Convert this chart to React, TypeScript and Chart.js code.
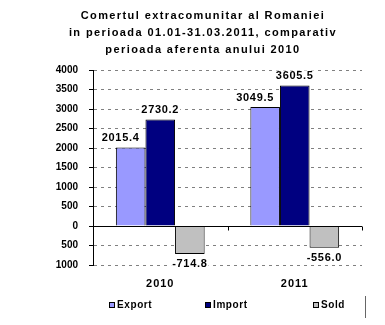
import { useEffect, useRef } from 'react';
import { Chart, registerables } from 'chart.js';

Chart.register(...registerables);

const titleLines = [
  'Comertul extracomunitar al Romaniei',
  'in perioada 01.01-31.03.2011, comparativ',
  'perioada aferenta anului 2010',
];
const categories = ['2010', '2011'];
const seriesNames = ['Export', 'Import', 'Sold'];
const exportValues = [2015.4, 3049.5];
const importValues = [2730.2, 3605.5];
const soldValues = [-714.8, -556.0];
const seriesColors = ['#9999FF', '#000080', '#C0C0C0'];
const yMin = -1000;
const yMax = 4000;
const yStep = 500;

const FONT = '"Liberation Sans", Arial, sans-serif';

const customPlugin = {
  id: 'custom',
  afterDatasetsDraw(chart: any) {
    const ctx = chart.ctx;
    const x = chart.scales.x;
    const y = chart.scales.y;
    const area = chart.chartArea;
    const y0 = Math.round(y.getPixelForValue(0)) + 0.5;
    ctx.save();
    // zero line
    ctx.strokeStyle = '#000';
    ctx.lineWidth = 1;
    ctx.beginPath();
    ctx.moveTo(area.left, y0);
    ctx.lineTo(area.right, y0);
    ctx.stroke();
    // category boundary ticks
    for (let i = 0; i <= categories.length; i++) {
      let px;
      if (i === 0) px = area.left;
      else if (i === categories.length) px = area.right;
      else px = (x.getPixelForValue(i - 1) + x.getPixelForValue(i)) / 2;
      px = Math.round(px) + 0.5;
      ctx.beginPath();
      ctx.moveTo(px, y0);
      ctx.lineTo(px, y0 + 4);
      ctx.stroke();
    }
    // data labels
    ctx.font = 'bold 11px ' + FONT;
    (ctx as any).letterSpacing = '0.7px';
    ctx.textAlign = 'center';
    chart.data.datasets.forEach((ds: any, di: number) => {
      const meta = chart.getDatasetMeta(di);
      meta.data.forEach((bar: any, i: number) => {
        const v = ds.data[i];
        const txt = v.toFixed(1);
        const w = ctx.measureText(txt).width;
        const cx = bar.x + (di === 0 ? -10 : 0);
        let top;
        if (v >= 0) top = bar.y - 15;
        else top = bar.y + 5;
        ctx.fillStyle = '#fff';
        ctx.fillRect(cx - w / 2 - 1, top, w + 2, 11);
        ctx.fillStyle = '#000';
        ctx.textBaseline = 'top';
        ctx.fillText(txt, cx, top);
      });
    });
    // category labels
    ctx.font = 'bold 11px ' + FONT;
    (ctx as any).letterSpacing = '1px';
    ctx.textBaseline = 'middle';
    ctx.textAlign = 'center';
    categories.forEach((c, i) => {
      ctx.fillText(c, x.getPixelForValue(i), area.bottom + 19);
    });
    ctx.restore();
  },
  afterDraw(chart: any) {
    const ctx = chart.ctx;
    ctx.save();
    // title
    ctx.font = 'bold 11px ' + FONT;
    (ctx as any).letterSpacing = '1.4px';
    ctx.fillStyle = '#000';
    ctx.textAlign = 'center';
    ctx.textBaseline = 'middle';
    titleLines.forEach((line, i) => {
      ctx.fillText(line, 203, 16 + i * 17);
    });
    // legend
    ctx.font = 'bold 10px ' + FONT;
    (ctx as any).letterSpacing = '0.6px';
    ctx.textAlign = 'left';
    const legendX = [109, 205, 313];
    chart.data.datasets.forEach((ds: any, di: number) => {
      const lx = legendX[di];
      ctx.fillStyle = ds.backgroundColor;
      ctx.fillRect(lx, 302, 6, 6);
      ctx.strokeStyle = '#000';
      ctx.lineWidth = 1;
      ctx.strokeRect(lx + 0.5, 302.5, 5, 5);
      ctx.fillStyle = '#000';
      ctx.fillText(ds.label, lx + 8, 305);
    });
    // frame fragment
    ctx.strokeStyle = '#666';
    ctx.beginPath();
    ctx.moveTo(365.5, 296);
    ctx.lineTo(365.5, 318);
    ctx.stroke();
    ctx.restore();
  },
};

export default function App() {
  const ref = useRef<HTMLCanvasElement>(null);
  useEffect(() => {
    document.body.style.margin = '0';
    const chart = new Chart(ref.current!, {
      type: 'bar',
      data: {
        labels: categories,
        datasets: [exportValues, importValues, soldValues].map((d, i) => ({
          label: seriesNames[i],
          data: d,
          backgroundColor: seriesColors[i],
          borderColor: '#000',
          borderWidth: 1,
          barPercentage: 1,
          categoryPercentage: 0.66,
        })),
      },
      options: {
        animation: false,
        responsive: false,
        layout: { padding: { top: 70, right: 23, bottom: 40, left: 0 } },
        plugins: {
          legend: { display: false },
          title: { display: false },
          tooltip: { enabled: false },
        },
        scales: {
          x: {
            grid: { display: false },
            border: { display: false },
            ticks: { display: false },
            afterFit: (s: any) => { s.height = 20; },
          },
          y: {
            min: yMin,
            max: yMax,
            grid: {
              color: '#808080',
              tickColor: '#000',
              tickLength: 4,
            },
            border: { color: '#000', width: 1, dash: [3, 4] },
            ticks: {
              stepSize: yStep,
              color: '#000',
              font: { family: FONT, size: 10, weight: 'bold' },
              padding: 11,
              callback: (v: any) => String(Math.abs(Number(v))),
            },
            afterFit: (s: any) => { s.width = 93; },
          },
        },
      },
      plugins: [customPlugin],
    });
    return () => chart.destroy();
  }, []);
  return <canvas ref={ref} width={385} height={325} style={{ display: 'block' }} />;
}
